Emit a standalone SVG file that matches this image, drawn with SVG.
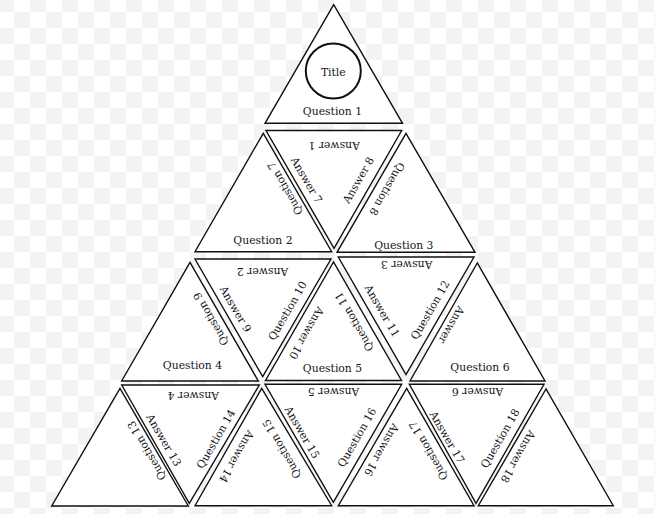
<svg xmlns="http://www.w3.org/2000/svg" width="655" height="514" viewBox="0 0 655 514">
<defs>
<pattern id="checker" patternUnits="userSpaceOnUse" x="-2" y="-4" width="32" height="32">
<rect x="0" y="0" width="16" height="16" fill="#f3f3f3"/>
<rect x="16" y="16" width="16" height="16" fill="#f3f3f3"/>
</pattern>
<style>
.tri{fill:#ffffff;stroke:#111111;stroke-width:1.4;stroke-linejoin:miter}
.t{font-family:"DejaVu Serif","Liberation Serif",serif;font-size:10.8px;fill:#141420;text-anchor:middle}
.circ{fill:none;stroke:#111111;stroke-width:2}
</style>
</defs>
<rect x="0" y="0" width="655" height="514" fill="#ffffff"/>
<rect x="0" y="0" width="655" height="514" fill="url(#checker)"/>

<g id="piece1">
<polygon class="tri" points="333.7,4.7 265,123.3 402.5,123.3"/>
<circle class="circ" cx="333.3" cy="71" r="27.5"/>
<text class="t" x="333.3" y="76">Title</text>
<text class="t" x="332.5" y="115">Question 1</text>
</g>

<g id="piece2">
<polygon class="tri" points="263.3,133.3 195,251.7 331.7,251.7"/>
<text class="t" x="263" y="244.3">Question 2</text>
<text class="t" transform="translate(285,188.5) rotate(-120)" y="3.9">Question 7</text>
</g>

<g id="piece3">
<polygon class="tri" points="266,130.5 401.7,130.5 334,248.3"/>
<text class="t" transform="translate(334.2,141.7) rotate(180)">Answer 1</text>
<text class="t" transform="translate(306.7,180) rotate(60)" y="3.9">Answer 7</text>
<text class="t" transform="translate(358.3,180) rotate(-60)" y="3.9">Answer 8</text>
</g>

<g id="piece4">
<polygon class="tri" points="406,133.3 337,252.3 475,252.3"/>
<text class="t" x="403.8" y="248.5">Question 3</text>
<text class="t" transform="translate(387.3,189) rotate(120)" y="3.9">Question 8</text>
</g>

<g id="piece5">
<polygon class="tri" points="190,262.3 121.7,381 258.3,381"/>
<text class="t" x="192.5" y="369.3">Question 4</text>
<text class="t" transform="translate(210.7,319) rotate(-120)" y="3.9">Question 9</text>
</g>

<g id="piece6">
<polygon class="tri" points="195,259 331,259 262.7,376.7"/>
<text class="t" transform="translate(262.5,268.3) rotate(180)">Answer 2</text>
<text class="t" transform="translate(235.7,309) rotate(60)" y="3.9">Answer 9</text>
<text class="t" transform="translate(287.3,310.7) rotate(-60)" y="3.9">Question 10</text>
</g>

<g id="piece7">
<polygon class="tri" points="333.5,262 265.5,380.5 401.5,380.5"/>
<text class="t" x="332.5" y="372">Question 5</text>
<text class="t" transform="translate(306.7,333.3) rotate(120)" y="3.9">Answer 10</text>
<text class="t" transform="translate(354,321.7) rotate(-120)" y="3.9">Question 11</text>
</g>

<g id="piece8">
<polygon class="tri" points="338.3,257 474,257 406,374.5"/>
<text class="t" transform="translate(406.7,261) rotate(180)">Answer 3</text>
<text class="t" transform="translate(382.3,310.7) rotate(60)" y="3.9">Answer 11</text>
<text class="t" transform="translate(430,310) rotate(-60)" y="3.9">Question 12</text>
</g>

<g id="piece9">
<polygon class="tri" points="477.3,263 410,381 545,381"/>
<text class="t" x="480" y="370.7">Question 6</text>
<text class="t" transform="translate(451.7,325) rotate(120)" y="3.9">Answer</text>
</g>

<g id="piece10">
<polygon class="tri" points="120,388.3 51.7,506 188.3,506"/>
<text class="t" transform="translate(146.7,450.7) rotate(-120)" y="3.9">Question 13</text>
</g>

<g id="piece11">
<polygon class="tri" points="121.7,385 259.3,385 189.3,503.3"/>
<text class="t" transform="translate(193.3,391.7) rotate(180)">Answer 4</text>
<text class="t" transform="translate(164,440) rotate(60)" y="3.9">Answer 13</text>
<text class="t" transform="translate(215.7,439) rotate(-60)" y="3.9">Question 14</text>
</g>

<g id="piece12">
<polygon class="tri" points="261.7,388.3 195,505.7 331.7,505.7"/>
<text class="t" transform="translate(236.7,456.7) rotate(120)" y="3.9">Answer 14</text>
<text class="t" transform="translate(281.7,449) rotate(-120)" y="3.9">Question 15</text>
</g>

<g id="piece13">
<polygon class="tri" points="265,384.3 401.7,384.3 333.3,502.3"/>
<text class="t" transform="translate(333.5,387.7) rotate(180)">Answer 5</text>
<text class="t" transform="translate(302.3,432.3) rotate(60)" y="3.9">Answer 15</text>
<text class="t" transform="translate(356.7,437.3) rotate(-60)" y="3.9">Question 16</text>
</g>

<g id="piece14">
<polygon class="tri" points="406.7,388.3 338.3,505.7 474,505.7"/>
<text class="t" transform="translate(381.7,450) rotate(120)" y="3.9">Answer 16</text>
<text class="t" transform="translate(428.3,450.7) rotate(-120)" y="3.9">Question 17</text>
</g>

<g id="piece15">
<polygon class="tri" points="409.3,384.3 544,384.3 476,503.3"/>
<text class="t" transform="translate(477.5,388.3) rotate(180)">Answer 6</text>
<text class="t" transform="translate(447.3,437.3) rotate(60)" y="3.9">Answer 17</text>
<text class="t" transform="translate(500,438.3) rotate(-60)" y="3.9">Question 18</text>
</g>

<g id="piece16">
<polygon class="tri" points="546,389 478.3,505.7 613.3,505.7"/>
<text class="t" transform="translate(518.3,456.7) rotate(120)" y="3.9">Answer 18</text>
</g>
</svg>
